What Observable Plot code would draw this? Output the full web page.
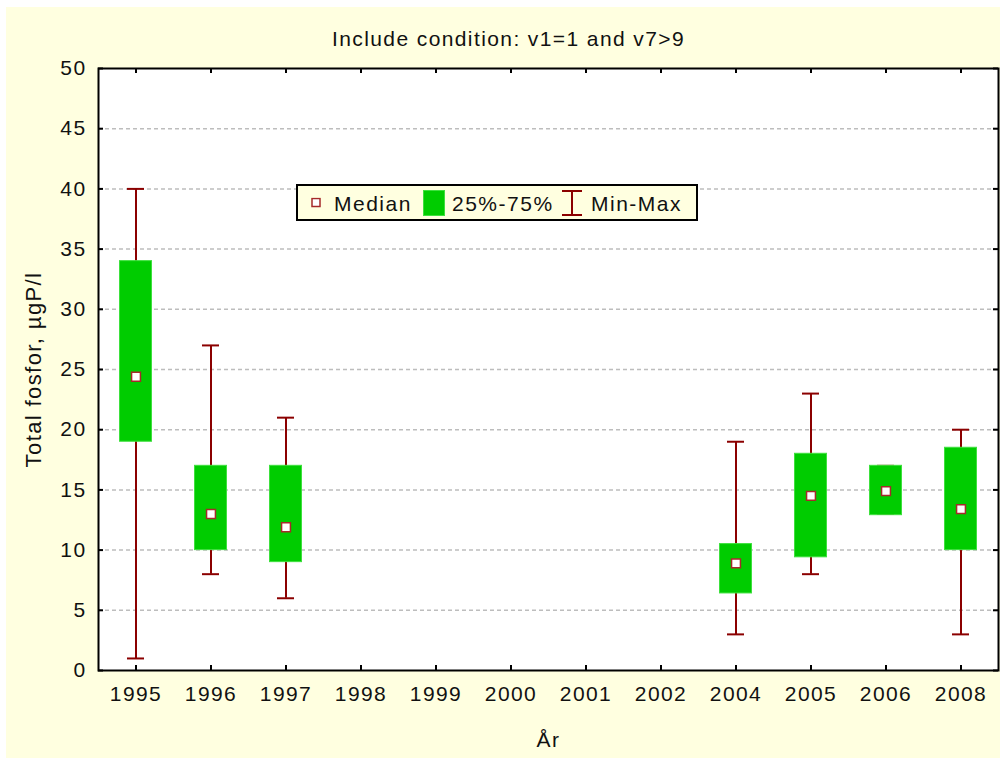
<!DOCTYPE html>
<html>
<head>
<meta charset="utf-8">
<script src="https://cdn.jsdelivr.net/npm/d3@7"></script>
<script src="https://cdn.jsdelivr.net/npm/@observablehq/plot@0.6"></script>
<style>
  html, body { margin: 0; padding: 0; background: white; }
  #wrap { position: relative; width: 1000px; height: 758px; overflow: hidden; font-family: "Liberation Sans", Arial, sans-serif; }
  #bg { position: absolute; left: 6px; top: 7px; right: 0; bottom: 0; background: #ffffe0; }
  #chart { position: absolute; left: 0; top: 0; }
  #legend { position: absolute; left: 296px; top: 184px; width: 402px; height: 37px; box-sizing: border-box;
            border: 2px solid #000; background: #ffffe0; font-size: 21px; letter-spacing: 1.5px; color: #111; }
  #legend .it { position: absolute; top: 50%; transform: translateY(-50%); white-space: nowrap; line-height: 1; }
</style>
</head>
<body>
<div id="wrap">
  <div id="bg"></div>
  <div id="chart"></div>
  <div id="legend"></div>
</div>
<script>
// ---- data ----
const titleText = "Include condition: v1=1 and v7>9";
const xLabel = "År";
const yLabel = "Total fosfor, µgP/l";
const years = ["1995","1996","1997","1998","1999","2000","2001","2002","2004","2005","2006","2008"];
const dataYears = ["1995","1996","1997","2004","2005","2006","2008"];
const minV    = [1, 8, 6, 3, 8, 13, 3];
const q1V     = [19, 10, 9, 6.4, 9.4, 12.9, 10];
const medianV = [24.4, 13, 11.9, 8.9, 14.5, 14.9, 13.4];
const q3V     = [34, 17, 17, 10.5, 18, 17, 18.5];
const maxV    = [40, 27, 21, 19, 23, 17, 20];
const yTicks = [0, 5, 10, 15, 20, 25, 30, 35, 40, 45, 50];
const gridTicks = [5, 10, 15, 20, 25, 30, 35, 40, 45];
const legendLabels = ["Median", "25%-75%", "Min-Max"];

const rows = dataYears.map((y, i) => ({year: y, min: minV[i], q1: q1V[i], median: medianV[i], q3: q3V[i], max: maxV[i]}));

const W = 1000, H = 758, mL = 98, mR = 2, mT = 68, mB = 88;
const fw = W - mL - mR, fh = H - mT - mB;
const tickLen = 5;
const whisk = "#8b0000";
const green = "#00cc00";

const chart = Plot.plot({
  width: W, height: H,
  marginLeft: mL, marginRight: mR, marginTop: mT, marginBottom: mB,
  style: {background: "transparent", fontFamily: "'Liberation Sans', Arial, sans-serif", fontSize: "21px", letterSpacing: "1.4px", color: "#111", overflow: "visible"},
  x: {type: "band", domain: years, padding: 0},
  y: {domain: [0, 50]},
  marks: [
    Plot.frame({fill: "white", stroke: "none"}),
    Plot.ruleY(gridTicks, {y: d => d, stroke: "#bdbdbd", strokeWidth: 1.5, strokeDasharray: "4,3"}),
    Plot.ruleX(rows, {x: "year", y1: "min", y2: "max", stroke: whisk, strokeWidth: 2}),
    Plot.tickY(rows, {x: "year", y: "max", stroke: whisk, strokeWidth: 2, insetLeft: 29, insetRight: 29}),
    Plot.tickY(rows, {x: "year", y: "min", stroke: whisk, strokeWidth: 2, insetLeft: 29, insetRight: 29}),
    Plot.barY(rows, {x: "year", y1: "q1", y2: "q3", fill: green, stroke: "#3ee03e", strokeWidth: 1, insetLeft: 21.5, insetRight: 21.5}),
    Plot.dot(rows, {x: "year", y: "median", symbol: "square", r: 5, fill: "white", stroke: "#a52a2a", strokeWidth: 1.5}),
    // inward ticks
    Plot.ruleX(years, {x: d => d, insetTop: fh - tickLen, stroke: "black", strokeWidth: 2}),
    Plot.ruleX(years, {x: d => d, insetBottom: fh - tickLen, stroke: "black", strokeWidth: 2}),
    Plot.ruleY(yTicks, {y: d => d, insetRight: fw - tickLen, stroke: "black", strokeWidth: 2}),
    Plot.ruleY(yTicks, {y: d => d, insetLeft: fw - tickLen, stroke: "black", strokeWidth: 2}),
    Plot.frame({stroke: "black", strokeWidth: 2}),
    Plot.axisX({ticks: years, tickSize: 0, tickPadding: 16, label: null, fill: "#111", fontSize: 21}),
    Plot.axisY({ticks: yTicks, tickSize: 0, tickPadding: 12, label: null, fill: "#111", fontSize: 21}),
    Plot.text([titleText], {text: d => d, frameAnchor: "top", textAnchor: "middle", dx: -40, dy: -29, lineAnchor: "middle", fontSize: 21, fill: "#111"}),
    Plot.text([xLabel], {text: d => d, frameAnchor: "bottom", textAnchor: "middle", dy: 70, lineAnchor: "middle", fontSize: 21, fill: "#111"}),
    Plot.text([yLabel], {text: d => d, frameAnchor: "left", textAnchor: "middle", dx: -65, rotate: -90, lineAnchor: "middle", fontSize: 22, fill: "#111"})
  ]
});
document.getElementById("chart").appendChild(chart);

// legend (positions relative to the legend box)
const lg = document.getElementById("legend");
lg.innerHTML = `
  <svg class="it" style="left:13px" width="11" height="11"><rect x="1" y="1" width="8" height="8" fill="white" stroke="#a52a2a" stroke-width="1.5"/></svg>
  <span class="it" style="left:36px">${legendLabels[0]}</span>
  <svg class="it" style="left:125px" width="22" height="26"><rect x="0.5" y="0.5" width="21" height="25" fill="${green}" stroke="#3ee03e" stroke-width="1"/></svg>
  <span class="it" style="left:154px">${legendLabels[1]}</span>
  <svg class="it" style="left:263px" width="22" height="26"><line x1="11" y1="1" x2="11" y2="25" stroke="${whisk}" stroke-width="2"/><line x1="1" y1="1" x2="21" y2="1" stroke="${whisk}" stroke-width="2"/><line x1="1" y1="25" x2="21" y2="25" stroke="${whisk}" stroke-width="2"/></svg>
  <span class="it" style="left:293px">${legendLabels[2]}</span>`;
</script>
</body>
</html>
